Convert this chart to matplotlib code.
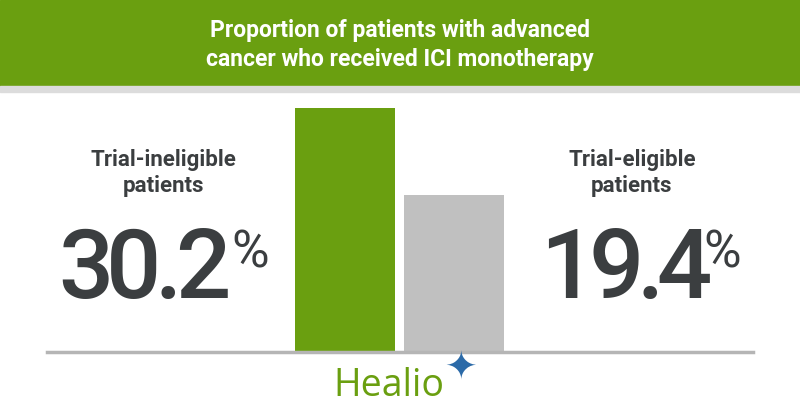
import matplotlib.pyplot as plt
from matplotlib.patches import Rectangle

# data
groups = ['Trial-ineligible\npatients', 'Trial-eligible\npatients']
values = [30.2, 19.4]
bar_colors = ['#6a9f10', '#c0c0c0']
title = 'Proportion of patients with advanced\ncancer who received ICI monotherapy'

W, H = 800, 420
fig = plt.figure(figsize=(8, 4.2), dpi=100)
fig.patch.set_facecolor('white')

# header banner + grey stripe
fig.patches.append(Rectangle((0, 1 - 86 / H), 1, 86 / H, transform=fig.transFigure,
                             color='#6a9f10', zorder=0))
fig.patches.append(Rectangle((0, 1 - 92 / H), 1, 6 / H, transform=fig.transFigure,
                             color='#dcdcdc', zorder=0))
fig.text(0.5, 1 - 45 / H, title, ha='center', va='center', color='white',
         fontsize=16.5, fontweight='bold', linespacing=1.3, family='Roboto')

# bars
ax = fig.add_axes([47 / W, 1 - 352 / H, 706 / W, 244 / H])
ax.bar(range(len(values)), values, width=0.91, color=bar_colors, zorder=2)
ax.set_xlim(-2.72, 3.73)
ax.set_ylim(0, max(values))
ax.axhline(0, color='#b5b5b5', lw=2.5, zorder=3, clip_on=False)
for s in ax.spines.values():
    s.set_visible(False)
ax.set_xticks([])
ax.set_yticks([])
ax.patch.set_alpha(0)

# side labels
txt = '#3b3e40'
label_x = [163 / W, 632 / W]
num_left = [58, 540]   # pixel left edge of the big numbers
pct_left = [231, 703]  # pixel left edge of the % signs
track = -7             # tighter letter spacing, px
renderer = fig.canvas.get_renderer()
for i, (g, v) in enumerate(zip(groups, values)):
    fig.text(label_x[i], 1 - 173 / H, g, ha='center', va='center', color=txt,
             fontsize=16, fontweight='bold', family='Roboto', linespacing=1.2)
    x = num_left[i]
    for ch in f'{v:.1f}':
        t = fig.text(x / W, 1 - 298 / H, ch, ha='left', va='baseline', color=txt,
                     fontsize=70, fontweight='medium', family='Roboto')
        bb = t.get_window_extent(renderer=renderer)
        x = bb.x1 + track
    fig.text(pct_left[i] / W, 1 - 229 / H, '%', ha='left', va='top', color=txt,
             fontsize=37, family='Roboto')

# logo
fig.text(389 / W, 1 - 386 / H, 'Healio', ha='center', va='center', color='#6a9f10',
         fontsize=27, family='Open Sans')
fig.text(461 / W, 1 - 368 / H, '\u2726', ha='center', va='center', color='#2b6aa8',
         fontsize=28, family='DejaVu Sans')

fig.savefig('out.png', dpi=100, facecolor='white')
